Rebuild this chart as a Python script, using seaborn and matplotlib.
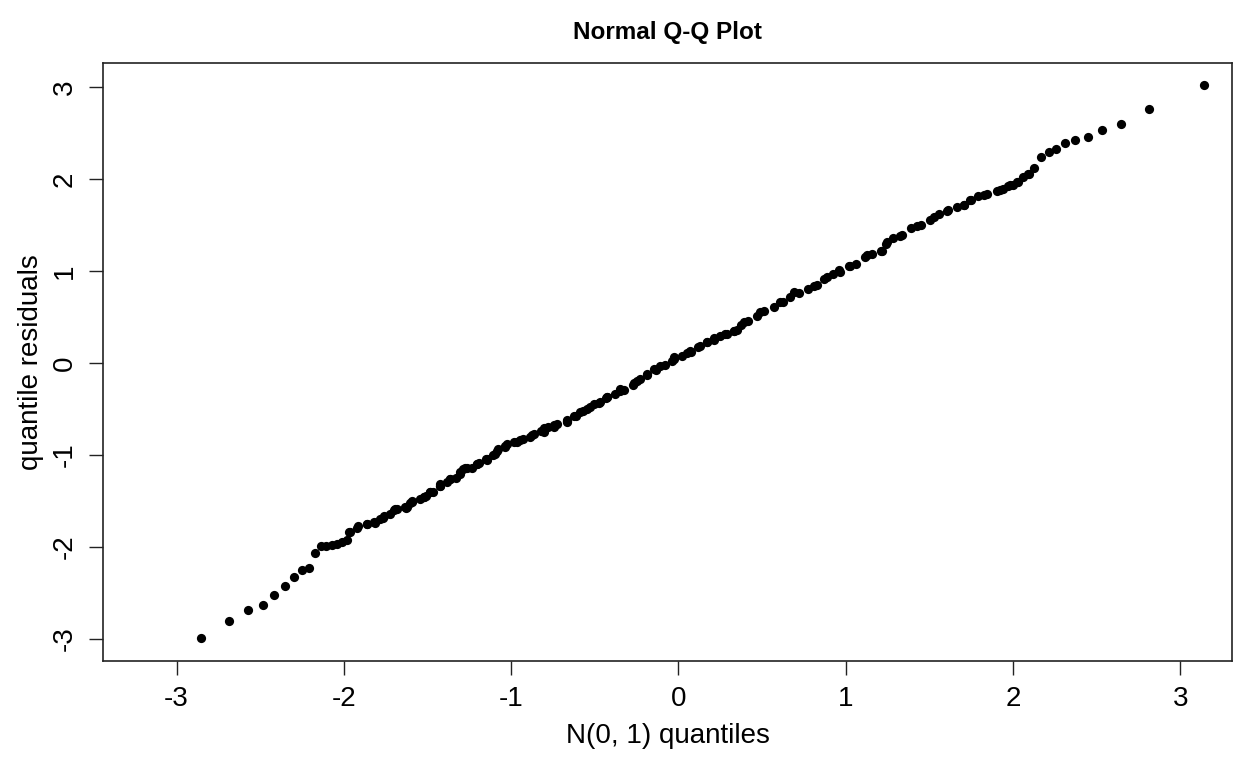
import pandas as pd
import matplotlib
matplotlib.use("Agg")
import matplotlib.pyplot as plt
import seaborn as sns

# N(0,1) quantiles (x) against quantile residuals (y)
# lower tail, separate points
low_x = [-2.853, -2.688, -2.574, -2.485, -2.415, -2.353, -2.299, -2.252, -2.207,
         -2.170, -2.136, -2.104, -2.072, -2.040, -2.010, -1.984, -1.968, -1.961]
low_y = [-2.985, -2.804, -2.688, -2.633, -2.524, -2.423, -2.332, -2.252, -2.234,
         -2.071, -1.995, -1.988, -1.980, -1.970, -1.951, -1.926, -1.840, -1.842]

# dense middle, first pass
mid_x = [-1.918, -1.863, -1.814, -1.767, -1.726, -1.685, -1.630, -1.602, -1.547,
         -1.506, -1.465, -1.424, -1.382, -1.327, -1.286, -1.231, -1.190, -1.149,
         -1.108, -1.080, -1.039, -0.984, -0.929, -0.874, -0.819, -0.778, -0.723,
         -0.668, -0.613, -0.572, -0.530, -0.476, -0.434, -0.379, -0.324, -0.269,
         -0.228, -0.187, -0.132, -0.077, -0.036, 0.019, 0.074, 0.115, 0.170,
         0.212, 0.280, 0.335, 0.376, 0.418, 0.473, 0.514, 0.569, 0.624, 0.665,
         0.720, 0.775, 0.830, 0.871, 0.926, 0.967, 1.022, 1.063, 1.118, 1.160,
         1.209, 1.242, 1.283, 1.338, 1.393, 1.448, 1.503, 1.558, 1.613, 1.668,
         1.709, 1.750, 1.792, 1.847, 1.902]
mid_y = [-1.775, -1.753, -1.738, -1.684, -1.637, -1.593, -1.575, -1.520, -1.484,
         -1.448, -1.404, -1.339, -1.295, -1.248, -1.157, -1.139, -1.085, -1.048,
         -1.005, -0.939, -0.903, -0.860, -0.823, -0.787, -0.740, -0.693, -0.667,
         -0.631, -0.576, -0.522, -0.475, -0.438, -0.377, -0.333, -0.293, -0.242,
         -0.177, -0.133, -0.075, -0.024, 0.023, 0.077, 0.121, 0.168, 0.223,
         0.266, 0.313, 0.350, 0.411, 0.459, 0.506, 0.568, 0.604, 0.658, 0.713,
         0.760, 0.804, 0.847, 0.913, 0.967, 0.992, 1.051, 1.076, 1.149, 1.185,
         1.221, 1.294, 1.356, 1.392, 1.464, 1.501, 1.559, 1.621, 1.657, 1.693,
         1.719, 1.766, 1.813, 1.838, 1.864]

# dense middle, second pass
mid2_x = [-1.920, -1.861, -1.821, -1.762, -1.692, -1.632, -1.592, -1.522, -1.482,
          -1.423, -1.363, -1.303, -1.273, -1.203, -1.144, -1.084, -1.024, -0.944,
          -0.865, -0.805, -0.745, -0.665, -0.586, -0.506, -0.426, -0.347, -0.247,
          -0.148, -0.028, 0.072, 0.172, 0.251, 0.331, 0.390, 0.490, 0.610, 0.689,
          0.809, 0.889, 0.958, 1.028, 1.128, 1.218, 1.247, 1.327, 1.427, 1.526,
          1.606, 1.705, 1.745, 1.825, 1.925]
mid2_y = [-1.790, -1.752, -1.727, -1.668, -1.589, -1.570, -1.509, -1.461, -1.407,
          -1.335, -1.262, -1.208, -1.146, -1.099, -1.045, -0.954, -0.881, -0.835,
          -0.773, -0.711, -0.675, -0.617, -0.536, -0.450, -0.373, -0.283, -0.193,
          -0.065, 0.062, 0.134, 0.225, 0.291, 0.351, 0.443, 0.552, 0.660, 0.769,
          0.841, 0.933, 1.015, 1.059, 1.168, 1.222, 1.313, 1.379, 1.487, 1.585,
          1.651, 1.712, 1.766, 1.828, 1.875]

# dense middle, third pass (lower half)
mid3_x = [-1.781, -1.702, -1.622, -1.592, -1.522, -1.482, -1.423, -1.363, -1.303,
          -1.263, -1.203, -1.143, -1.094, -1.034, -0.964, -0.885, -0.805, -0.745,
          -0.665, -0.626, -0.546, -0.466, -0.426, -0.347, -0.267, -0.187, -0.108,
          -0.028, 0.052, 0.132, 0.211, 0.291, 0.351]
mid3_y = [-1.698, -1.596, -1.570, -1.498, -1.461, -1.400, -1.317, -1.262, -1.183,
          -1.146, -1.099, -1.052, -0.990, -0.917, -0.863, -0.808, -0.754, -0.700,
          -0.645, -0.580, -0.501, -0.421, -0.373, -0.301, -0.218, -0.120, -0.029,
          0.044, 0.109, 0.188, 0.254, 0.316, 0.362]

# upper tail
high_x = [1.941, 1.968, 1.984, 2.001, 2.025, 2.028, 2.060, 2.088, 2.094, 2.128,
          2.168, 2.213, 2.259, 2.313, 2.373, 2.447, 2.534, 2.648, 2.815, 3.144]
high_y = [1.886, 1.923, 1.929, 1.929, 1.966, 1.966, 2.021, 2.056, 2.049, 2.119,
          2.242, 2.293, 2.325, 2.394, 2.423, 2.452, 2.532, 2.597, 2.761, 3.017]

ticks = [-3, -2, -1, 0, 1, 2, 3]

df = pd.DataFrame({
    "theoretical": low_x + mid_x + mid2_x + mid3_x + high_x,
    "residual": low_y + mid_y + mid2_y + mid3_y + high_y,
})

sns.set_style("white")
plt.rcParams['font.family'] = ['Liberation Sans', 'DejaVu Sans']
plt.rcParams['text.color'] = 'black'
plt.rcParams['axes.labelcolor'] = 'black'
plt.rcParams['xtick.color'] = 'black'
plt.rcParams['ytick.color'] = 'black'

fig = plt.figure(figsize=(12.54, 7.61), dpi=100)
ax = fig.add_axes([0.0821, 0.1314, 0.9004, 0.7858])

sns.scatterplot(data=df, x="theoretical", y="residual", ax=ax,
                color="black", s=44, linewidth=0, legend=False)

ax.set_xlim(-3.44, 3.31)
ax.set_ylim(-3.24, 3.26)
ax.set_xticks(ticks)
ax.set_yticks(ticks)
ax.set_xticklabels([str(t) for t in ticks], fontsize=20)
ax.set_yticklabels([str(t) for t in ticks], fontsize=20, rotation=90, va="center")
ax.tick_params(direction="out", length=10, width=1, color="#222222", pad=8,
               left=True, bottom=True)
for sp in ax.spines.values():
    sp.set_visible(True)
    sp.set_color("#222222")
    sp.set_linewidth(1.2)

ax.set_xlabel("N(0, 1) quantiles", fontsize=20, labelpad=8)
ax.set_ylabel("quantile residuals", fontsize=20, labelpad=6)
ax.set_title("Normal Q-Q Plot", fontsize=17.5, fontweight="bold", pad=17)

fig.savefig("out.png", dpi=100)
